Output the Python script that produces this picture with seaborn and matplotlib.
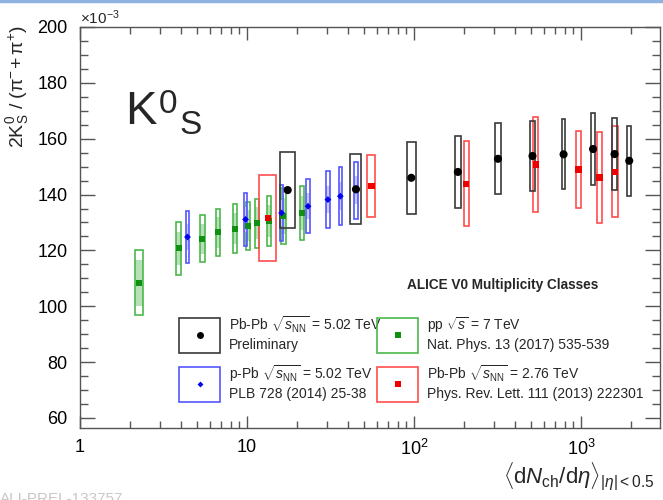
import numpy as np
import pandas as pd
import matplotlib
matplotlib.use("Agg")
import matplotlib.pyplot as plt
import seaborn as sns
from matplotlib.patches import Rectangle
from matplotlib.lines import Line2D
from matplotlib.ticker import FixedLocator, FixedFormatter, LogLocator, MultipleLocator, NullFormatter

# ---------------- data (ratio in units of 1e-3) ----------------
# Pb-Pb 5.02 TeV (preliminary)
pb5_x = [17.52, 44.9, 96.3, 183, 318, 512, 786, 1180, 1587, 1943]
pb5_xerr = [1.84, 3.4, 5.8, 8, 12, 15, 20, 31, 47, 54]
pb5_y = [141.6, 141.9, 146.0, 148.1, 152.8, 153.8, 154.4, 156.3, 154.5, 152.1]
pb5_sys = [13.7, 12.6, 12.8, 13.0, 12.7, 12.6, 12.5, 13.0, 12.9, 12.6]

# pp 7 TeV
pp_x = [2.26, 3.90, 5.40, 6.72, 8.45, 10.1, 11.5, 13.5, 16.5, 21.3]
pp_xerr = [0.12, 0.14, 0.17, 0.21, 0.25, 0.3, 0.3, 0.4, 0.5, 0.6]
pp_y = [108.4, 120.7, 124.1, 126.5, 127.8, 128.8, 129.7, 130.6, 132.3, 133.4]
pp_sys = [11.7, 9.5, 8.4, 8.5, 8.7, 8.6, 8.8, 8.9, 9.9, 9.5]
pp_sys_unc = [8.2, 5.8, 5.4, 5.5, 5.6, 5.6, 5.7, 5.8, 6.4, 6.2]

# p-Pb 5.02 TeV
ppb_x = [4.4, 9.8, 16.1, 23.2, 30.5, 36.2, 45.0]
ppb_xerr = [0.1, 0.2, 0.4, 0.5, 0.7, 0.8, 1.0]
ppb_y = [124.8, 131.1, 133.4, 135.8, 138.2, 139.4, 141.5]
ppb_sys = [9.4, 9.4, 9.9, 9.6, 10.1, 10.3, 10.2]
ppb_sys_unc = [4.5, 4.5, 4.8, 4.6, 4.9, 5.0, 5.0]

# Pb-Pb 2.76 TeV
pb2_x = [13.4, 55.5, 205, 537, 966, 1294, 1601]
pb2_xerr = [1.6, 3, 7, 19, 37, 49, 60]
pb2_y = [131.6, 143.1, 143.8, 150.8, 149.0, 146.1, 148.1]
pb2_sys = [15.5, 11.2, 15.2, 17.0, 13.9, 16.2, 16.3]

x_ticks = [1, 10, 100, 1000]
x_ticklabels = ["1", "10", "$10^{2}$", "$10^{3}$"]
y_ticks = [60, 80, 100, 120, 140, 160, 180, 200]

# ---------------- style ----------------
sns.set_theme(style="ticks")
plt.rcParams["font.family"] = ["Liberation Sans", "DejaVu Sans"]
plt.rcParams["mathtext.fontset"] = "custom"
plt.rcParams["mathtext.rm"] = "Liberation Sans"
plt.rcParams["mathtext.it"] = "Liberation Sans:italic"
plt.rcParams["mathtext.bf"] = "Liberation Sans:bold"
plt.rcParams["mathtext.sf"] = "Liberation Sans"

fig = plt.figure(figsize=(6.63, 5.0), dpi=100)
L, R, T, B = 80, 660, 27, 428
ax = fig.add_axes([L / 663, 1 - B / 500, (R - L) / 663, (B - T) / 500])
ax.set_xscale("log")
ax.set_xlim(1, 2970)
ax.set_ylim(56.4, 200)

C_GREEN_M = "#109010"
C_GREEN_B = "#4cb84c"
C_GREEN_F = "#b8e0b8"
C_BLUE_M = "#0000ee"
C_BLUE_B = "#5555ff"
C_BLUE_F = "#c9c9ff"
C_RED_M = "#ee0000"
C_RED_B = "#ff4d4d"
C_BLACK_B = "#3a3a3a"


def boxes(x, xerr, y, sys, edge, lw=1.2, fill=None, unc=None, z=2):
    x = np.asarray(x, float)
    xerr = np.asarray(xerr, float)
    y = np.asarray(y, float)
    sys = np.asarray(sys, float)
    if fill is not None and unc is not None:
        unc = np.asarray(unc, float)
        ax.bar(x - xerr, 2 * unc, width=2 * xerr, bottom=y - unc, align="edge",
               color=fill, edgecolor="none", linewidth=0, zorder=z)
    ax.bar(x - xerr, 2 * sys, width=2 * xerr, bottom=y - sys, align="edge",
           fill=False, edgecolor=edge, linewidth=lw, zorder=z + 0.1)


boxes(pp_x, pp_xerr, pp_y, pp_sys, C_GREEN_B, fill=C_GREEN_F, unc=pp_sys_unc, z=2)
boxes(ppb_x, ppb_xerr, ppb_y, ppb_sys, C_BLUE_B, fill=C_BLUE_F, unc=ppb_sys_unc, z=2.5)
boxes(pb2_x, pb2_xerr, pb2_y, pb2_sys, C_RED_B, z=3)
boxes(pb5_x, pb5_xerr, pb5_y, pb5_sys, C_BLACK_B, z=3.5)

df_pp = pd.DataFrame({"x": pp_x, "y": pp_y})
df_ppb = pd.DataFrame({"x": ppb_x, "y": ppb_y})
df_pb2 = pd.DataFrame({"x": pb2_x, "y": pb2_y})
df_pb5 = pd.DataFrame({"x": pb5_x, "y": pb5_y})

sns.scatterplot(data=df_pp, x="x", y="y", ax=ax, marker="s", s=18, color=C_GREEN_M,
                edgecolor="none", zorder=5, legend=False)
sns.scatterplot(data=df_ppb, x="x", y="y", ax=ax, marker="D", s=12, color=C_BLUE_M,
                edgecolor="none", zorder=5, legend=False)
sns.scatterplot(data=df_pb2, x="x", y="y", ax=ax, marker="s", s=22, color=C_RED_M,
                edgecolor="none", zorder=5, legend=False)
sns.scatterplot(data=df_pb5, x="x", y="y", ax=ax, marker="o", s=34, color="black",
                edgecolor="none", zorder=6, legend=False)

# ---------------- axes ----------------
ax.set_xlabel("")
ax.set_ylabel("")
ax.xaxis.set_major_locator(FixedLocator(x_ticks))
ax.xaxis.set_major_formatter(FixedFormatter(x_ticklabels))
ax.xaxis.set_minor_locator(LogLocator(base=10, subs=np.arange(2, 10), numticks=20))
ax.xaxis.set_minor_formatter(NullFormatter())
ax.yaxis.set_major_locator(FixedLocator(y_ticks))
ax.yaxis.set_minor_locator(MultipleLocator(5))

for sp in ax.spines.values():
    sp.set_color("#555555")
    sp.set_linewidth(1.0)
ax.tick_params(which="both", direction="in", top=True, right=True, color="#555555", width=1.0,
               labelcolor="black", labelsize=13)
ax.tick_params(axis="y", which="major", length=11, pad=9)
ax.tick_params(axis="y", which="minor", length=5.5)
ax.tick_params(axis="x", which="major", length=9, pad=8)
ax.tick_params(axis="x", which="minor", length=5)

ax.text(0.0, 1.0, r"$\times10^{-3}$", transform=ax.transAxes, ha="left", va="bottom", fontsize=11)

fig.text(18 / 663, 1 - 25 / 500, r"$\mathregular{2K^{0}_{S}\ /\ (\pi^{-}\!+\pi^{+})}$",
         rotation=90, ha="center", va="top", fontsize=14)
fig.text(655 / 663, 1 - 484 / 500,
         r"$\langle\mathrm{d}N_{\mathrm{ch}}/\mathrm{d}\eta\rangle_{|\eta|< 0.5}$",
         ha="right", va="baseline", fontsize=16)

# K0S label (ROOT style: superscript then staggered subscript)
fig.text(125 / 663, 1 - 124 / 500, "K", ha="left", va="baseline", fontsize=34)
fig.text(159 / 663, 1 - 113 / 500, "0", ha="left", va="baseline", fontsize=24)
fig.text(179 / 663, 1 - 134 / 500, "S", ha="left", va="baseline", fontsize=24)

ax.text(0.564, 0.357, "ALICE V0 Multiplicity Classes", transform=ax.transAxes,
        ha="left", va="center", fontsize=9.8, fontweight="bold")

# ---------------- legend (manual, ROOT style) ----------------
entries = [
    (0.171, 0.188, C_BLACK_B, "black", "o", 5,
     r"Pb-Pb $\sqrt{s_{\mathrm{NN}}}$ = 5.02 TeV", "Preliminary"),
    (0.512, 0.188, C_GREEN_B, C_GREEN_M, "s", 4,
     r"pp $\sqrt{s}$ = 7 TeV", "Nat. Phys. 13 (2017) 535-539"),
    (0.171, 0.066, C_BLUE_B, C_BLUE_M, "D", 3,
     r"p-Pb $\sqrt{s_{\mathrm{NN}}}$ = 5.02 TeV", "PLB 728 (2014) 25-38"),
    (0.512, 0.066, C_RED_B, C_RED_M, "s", 5,
     r"Pb-Pb $\sqrt{s_{\mathrm{NN}}}$ = 2.76 TeV", "Phys. Rev. Lett. 111 (2013) 222301"),
]
bw, bh = 0.071, 0.086
for (bx, by, ec, mc, mk, ms, l1, l2) in entries:
    ax.add_patch(Rectangle((bx, by), bw, bh, transform=ax.transAxes, fill=False,
                           edgecolor=ec, linewidth=1.2, zorder=7))
    ax.add_line(Line2D([bx + bw / 2], [by + bh / 2], transform=ax.transAxes, marker=mk,
                       markersize=ms, color=mc, markeredgewidth=0, linestyle="none", zorder=8))
    ax.text(bx + bw + 0.0155, by + bh * 0.80, l1, transform=ax.transAxes, ha="left",
            va="center", fontsize=10)
    ax.text(bx + bw + 0.0155, by + bh * 0.22, l2, transform=ax.transAxes, ha="left",
            va="center", fontsize=10)

# decorations of the screenshot
fig.add_artist(Line2D([0, 1], [0.998, 0.998], transform=fig.transFigure, color="#8fb3e0",
                      linewidth=2.5))
fig.text(0.0, -0.012, "ALI-PREL-133757", ha="left", va="bottom", fontsize=11, color="#c8c8c8")

fig.savefig("out.png", dpi=100)
